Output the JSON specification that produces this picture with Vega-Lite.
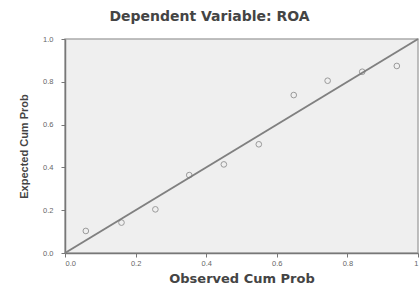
{
  "$schema": "https://vega.github.io/schema/vega-lite/v6.json",
  "autosize": "none",
  "width": 353,
  "height": 214,
  "padding": {"left": 65, "top": 39, "right": 2, "bottom": 36},
  "background": "white",
  "title": {
    "text": "Dependent Variable: ROA",
    "font": "DejaVu Sans",
    "fontSize": 14,
    "fontWeight": "bold",
    "color": "#444",
    "offset": 11,
    "dx": -32,
    "anchor": "middle"
  },
  "config": {
    "view": {"fill": "#efefef", "stroke": "#aaa", "strokeWidth": 1.5},
    "axis": {
      "labelFont": "Liberation Sans",
      "titleFont": "DejaVu Sans",
      "labelFontSize": 7.5,
      "labelColor": "#666",
      "titleFontSize": 10,
      "titleFontWeight": "bold",
      "titleColor": "#444",
      "domainColor": "#777",
      "domainWidth": 1.5,
      "tickColor": "#777",
      "tickSize": 4,
      "grid": false
    }
  },
  "datasets": {
    "pts": [
      {"obs": 0.059, "exp": 0.103},
      {"obs": 0.160, "exp": 0.142},
      {"obs": 0.256, "exp": 0.204},
      {"obs": 0.352, "exp": 0.364},
      {"obs": 0.450, "exp": 0.414},
      {"obs": 0.549, "exp": 0.508},
      {"obs": 0.648, "exp": 0.738},
      {"obs": 0.744, "exp": 0.805},
      {"obs": 0.842, "exp": 0.847},
      {"obs": 0.940, "exp": 0.874}
    ],
    "diag": [
      {"obs": 0, "exp": 0},
      {"obs": 1, "exp": 1}
    ]
  },
  "layer": [
    {
      "data": {"name": "diag"},
      "mark": {"type": "line", "color": "#808080", "strokeWidth": 2},
      "encoding": {
        "x": {"field": "obs", "type": "quantitative"},
        "y": {"field": "exp", "type": "quantitative"}
      }
    },
    {
      "data": {"name": "pts"},
      "mark": {"type": "point", "shape": "circle", "filled": false, "size": 32, "stroke": "#777", "strokeWidth": 1},
      "encoding": {
        "x": {
          "field": "obs", "type": "quantitative",
          "scale": {"domain": [0, 1], "nice": false},
          "axis": {"title": "Observed Cum Prob", "titleFontSize": 13, "values": [0, 0.2, 0.4, 0.6, 0.8, 1], "labelExpr": "datum.value == 1 ? '1' : format(datum.value, '.1f')", "titlePadding": 6}
        },
        "y": {
          "field": "exp", "type": "quantitative",
          "scale": {"domain": [0, 1], "nice": false},
          "axis": {"title": "Expected Cum Prob", "titleFont": "Liberation Sans", "titleFontSize": 11, "values": [0, 0.2, 0.4, 0.6, 0.8, 1], "format": ".1f", "labelPadding": 8, "titlePadding": 13}
        }
      }
    }
  ]
}
